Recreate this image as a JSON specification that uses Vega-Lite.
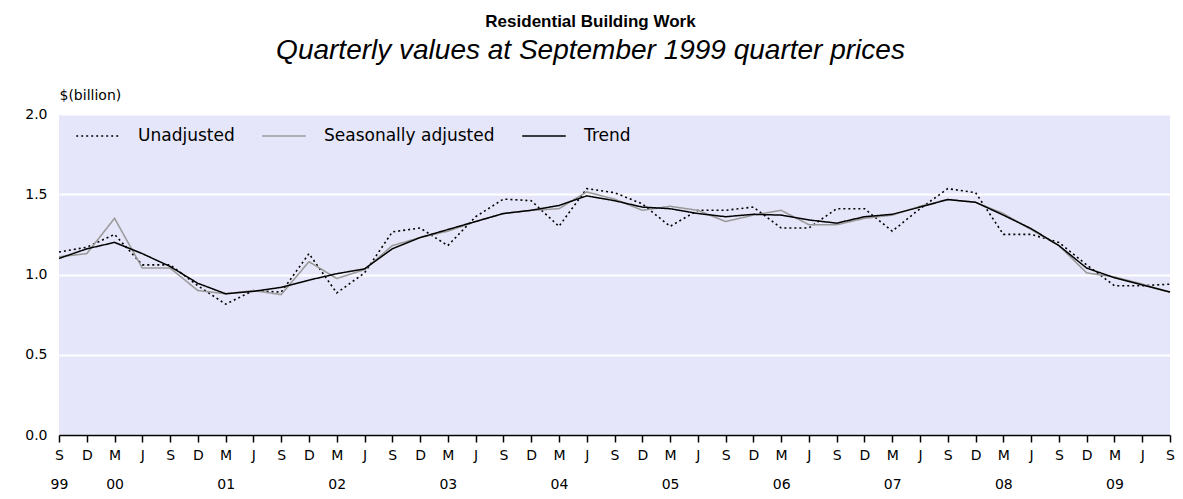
{
  "$schema": "https://vega.github.io/schema/vega-lite/v6.json",
  "width": 1111,
  "height": 321,
  "autosize": {"type": "none"},
  "padding": {"left": 59, "top": 114, "right": 13, "bottom": 64},
  "background": "white",
  "title": {
    "text": "Residential Building Work",
    "subtitle": "Quarterly values at September 1999 quarter prices",
    "anchor": "middle",
    "frame": "group",
    "dx": -24,
    "offset": 22,
    "font": "Liberation Sans",
    "fontSize": 17,
    "fontWeight": "bold",
    "color": "black",
    "subtitleFont": "Liberation Sans",
    "subtitleFontSize": 28,
    "subtitleFontStyle": "italic",
    "subtitleFontWeight": "normal",
    "subtitleColor": "black",
    "subtitlePadding": 6
  },
  "config": {"view": {"fill": "#E6E6FA", "stroke": null}},
  "data": {
    "values": [
      {"q": 0, "Unadjusted": 1.14, "Seasonally adjusted": 1.11, "Trend": 1.10},
      {"q": 1, "Unadjusted": 1.17, "Seasonally adjusted": 1.13, "Trend": 1.16},
      {"q": 2, "Unadjusted": 1.25, "Seasonally adjusted": 1.35, "Trend": 1.20},
      {"q": 3, "Unadjusted": 1.06, "Seasonally adjusted": 1.04, "Trend": 1.13},
      {"q": 4, "Unadjusted": 1.06, "Seasonally adjusted": 1.04, "Trend": 1.05},
      {"q": 5, "Unadjusted": 0.93, "Seasonally adjusted": 0.90, "Trend": 0.945},
      {"q": 6, "Unadjusted": 0.815, "Seasonally adjusted": 0.88, "Trend": 0.88},
      {"q": 7, "Unadjusted": 0.90, "Seasonally adjusted": 0.90, "Trend": 0.895},
      {"q": 8, "Unadjusted": 0.89, "Seasonally adjusted": 0.875, "Trend": 0.92},
      {"q": 9, "Unadjusted": 1.13, "Seasonally adjusted": 1.08, "Trend": 0.965},
      {"q": 10, "Unadjusted": 0.885, "Seasonally adjusted": 0.975, "Trend": 1.005},
      {"q": 11, "Unadjusted": 1.01, "Seasonally adjusted": 1.03, "Trend": 1.035},
      {"q": 12, "Unadjusted": 1.265, "Seasonally adjusted": 1.18, "Trend": 1.16},
      {"q": 13, "Unadjusted": 1.29, "Seasonally adjusted": 1.23, "Trend": 1.23},
      {"q": 14, "Unadjusted": 1.18, "Seasonally adjusted": 1.27, "Trend": 1.28},
      {"q": 15, "Unadjusted": 1.36, "Seasonally adjusted": 1.33, "Trend": 1.33},
      {"q": 16, "Unadjusted": 1.47, "Seasonally adjusted": 1.38, "Trend": 1.38},
      {"q": 17, "Unadjusted": 1.46, "Seasonally adjusted": 1.40, "Trend": 1.40},
      {"q": 18, "Unadjusted": 1.30, "Seasonally adjusted": 1.41, "Trend": 1.43},
      {"q": 19, "Unadjusted": 1.535, "Seasonally adjusted": 1.515, "Trend": 1.49},
      {"q": 20, "Unadjusted": 1.51, "Seasonally adjusted": 1.47, "Trend": 1.46},
      {"q": 21, "Unadjusted": 1.44, "Seasonally adjusted": 1.40, "Trend": 1.42},
      {"q": 22, "Unadjusted": 1.30, "Seasonally adjusted": 1.425, "Trend": 1.41},
      {"q": 23, "Unadjusted": 1.40, "Seasonally adjusted": 1.40, "Trend": 1.38},
      {"q": 24, "Unadjusted": 1.40, "Seasonally adjusted": 1.33, "Trend": 1.36},
      {"q": 25, "Unadjusted": 1.42, "Seasonally adjusted": 1.37, "Trend": 1.375},
      {"q": 26, "Unadjusted": 1.29, "Seasonally adjusted": 1.40, "Trend": 1.37},
      {"q": 27, "Unadjusted": 1.29, "Seasonally adjusted": 1.31, "Trend": 1.34},
      {"q": 28, "Unadjusted": 1.41, "Seasonally adjusted": 1.31, "Trend": 1.32},
      {"q": 29, "Unadjusted": 1.41, "Seasonally adjusted": 1.35, "Trend": 1.36},
      {"q": 30, "Unadjusted": 1.27, "Seasonally adjusted": 1.37, "Trend": 1.375},
      {"q": 31, "Unadjusted": 1.41, "Seasonally adjusted": 1.425, "Trend": 1.42},
      {"q": 32, "Unadjusted": 1.535, "Seasonally adjusted": 1.467, "Trend": 1.467},
      {"q": 33, "Unadjusted": 1.51, "Seasonally adjusted": 1.45, "Trend": 1.45},
      {"q": 34, "Unadjusted": 1.25, "Seasonally adjusted": 1.38, "Trend": 1.37},
      {"q": 35, "Unadjusted": 1.25, "Seasonally adjusted": 1.28, "Trend": 1.286},
      {"q": 36, "Unadjusted": 1.20, "Seasonally adjusted": 1.18, "Trend": 1.18},
      {"q": 37, "Unadjusted": 1.06, "Seasonally adjusted": 1.01, "Trend": 1.04},
      {"q": 38, "Unadjusted": 0.93, "Seasonally adjusted": 0.985, "Trend": 0.98},
      {"q": 39, "Unadjusted": 0.93, "Seasonally adjusted": 0.94, "Trend": 0.935},
      {"q": 40, "Unadjusted": 0.94, "Seasonally adjusted": 0.89, "Trend": 0.89}
    ]
  },
  "transform": [
    {"fold": ["Unadjusted", "Seasonally adjusted", "Trend"], "as": ["series", "value"]}
  ],
  "mark": {"type": "line", "interpolate": "linear"},
  "encoding": {
    "x": {
      "field": "q",
      "type": "quantitative",
      "scale": {"domain": [0, 40], "nice": false, "zero": false},
      "axis": {
        "values": [0,1,2,3,4,5,6,7,8,9,10,11,12,13,14,15,16,17,18,19,20,21,22,23,24,25,26,27,28,29,30,31,32,33,34,35,36,37,38,39,40],
        "labelExpr": "datum.value == 0 ? ['S','99'] : (datum.value % 4 == 2 ? ['M', '0' + ((datum.value - 2) / 4)] : ['S','D','M','J'][datum.value % 4])",
        "grid": false,
        "domainColor": "black",
        "domainWidth": 1.5,
        "tickColor": "black",
        "tickWidth": 1.5,
        "tickSize": 7,
        "labelFont": "DejaVu Sans",
        "labelFontSize": 14,
        "labelColor": "black",
        "labelPadding": 6,
        "labelLineHeight": 29,
        "labelFlush": false,
        "labelOverlap": false,
        "title": null
      }
    },
    "y": {
      "field": "value",
      "type": "quantitative",
      "scale": {"domain": [0, 2], "nice": false},
      "axis": {
        "values": [0, 0.5, 1, 1.5, 2],
        "format": ".1f",
        "grid": true,
        "gridColor": "white",
        "gridWidth": 2,
        "domain": false,
        "ticks": false,
        "labelFont": "DejaVu Sans",
        "labelFontSize": 14,
        "labelColor": "black",
        "labelPadding": 12,
        "title": "$(billion)",
        "titleAngle": 0,
        "titleAlign": "left",
        "titleBaseline": "middle",
        "titleX": 0,
        "titleY": -19,
        "titleFont": "DejaVu Sans",
        "titleFontSize": 14,
        "titleFontWeight": "normal",
        "titleColor": "black"
      }
    },
    "color": {
      "field": "series",
      "type": "nominal",
      "scale": {"domain": ["Unadjusted", "Seasonally adjusted", "Trend"], "range": ["black", "#9a9a9a", "black"]},
      "legend": {
        "orient": "none",
        "legendX": 16,
        "legendY": -1,
        "direction": "horizontal",
        "title": null,
        "symbolType": "stroke",
        "symbolSize": 1900,
        "symbolStrokeWidth": 1.5,
        "labelFont": "DejaVu Sans",
        "labelFontSize": 17,
        "labelColor": "black",
        "labelLimit": 400,
        "labelOffset": 17,
        "columnPadding": 24,
        "padding": 0
      }
    },
    "strokeDash": {
      "field": "series",
      "type": "nominal",
      "scale": {"domain": ["Unadjusted", "Seasonally adjusted", "Trend"], "range": [[2, 3], [1, 0], [1, 0]]},
      "legend": {
        "orient": "none",
        "legendX": 16,
        "legendY": -1,
        "direction": "horizontal",
        "title": null,
        "symbolType": "stroke",
        "symbolSize": 1900,
        "symbolStrokeWidth": 1.5,
        "labelFont": "DejaVu Sans",
        "labelFontSize": 17,
        "labelColor": "black",
        "labelLimit": 400,
        "labelOffset": 17,
        "columnPadding": 24,
        "padding": 0
      }
    },
    "strokeWidth": {
      "field": "series",
      "type": "nominal",
      "scale": {"domain": ["Unadjusted", "Seasonally adjusted", "Trend"], "range": [1.6, 1.5, 2]},
      "legend": null
    },
    "order": {"field": "series", "sort": "descending"}
  }
}
